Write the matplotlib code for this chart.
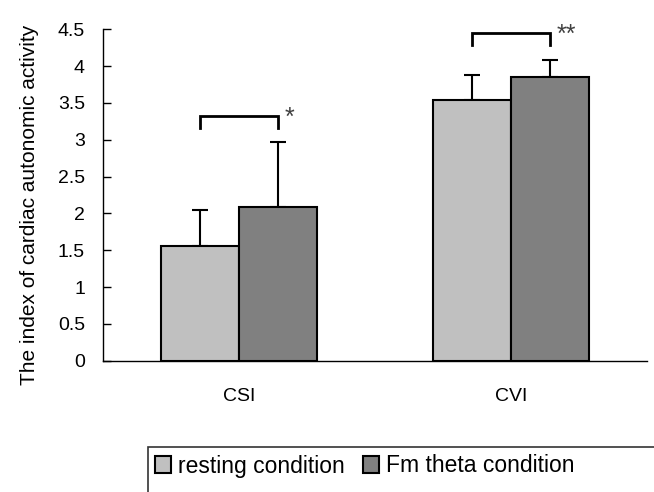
import matplotlib.pyplot as plt
import numpy as np
from matplotlib.patches import Rectangle

plt.rcParams['font.family'] = ['Liberation Sans', 'DejaVu Sans']

# data
categories = ["CSI", "CVI"]
series_names = ["resting condition", "Fm theta condition"]
resting = [1.56, 3.54]
resting_sd = [0.49, 0.34]
fm_theta = [2.09, 3.85]
fm_theta_sd = [0.88, 0.23]
bracket_y = [3.32, 4.45]
bracket_leg = [0.16, 0.17]
stars = ["*", "**"]

fig = plt.figure(figsize=(6.54, 4.92), dpi=100)
ax = fig.add_axes([0.1575, 0.267, 0.8315, 0.6735])

x = np.arange(len(categories))
w = 0.2857

ax.bar(x - w/2, resting, w, color="#c0c0c0", edgecolor="black", linewidth=1.5,
       label=series_names[0], zorder=2)
ax.bar(x + w/2, fm_theta, w, color="#808080", edgecolor="black", linewidth=1.5,
       label=series_names[1], zorder=2)

# sadece pozitif hata çubukları
ax.errorbar(x - w/2, resting, yerr=[np.zeros(2), resting_sd], fmt="none",
            ecolor="black", elinewidth=1.5, capsize=5.5, capthick=1.5, zorder=1)
ax.errorbar(x + w/2, fm_theta, yerr=[np.zeros(2), fm_theta_sd], fmt="none",
            ecolor="black", elinewidth=1.5, capsize=5.5, capthick=1.5, zorder=1)

for i in range(len(categories)):
    x0, x1 = x[i] - w/2, x[i] + w/2
    y = bracket_y[i]
    ax.plot([x0, x0, x1, x1], [y - bracket_leg[i], y, y, y - bracket_leg[i]],
            color="black", lw=2, solid_joinstyle="miter", clip_on=False)
    ax.text(x1 + 0.025, y - 0.02, stars[i], fontsize=18, ha="left", va="center",
            color="#404040")

ax.set_xlim(-0.5, 1.5)
ax.set_ylim(0, 4.5)
ax.set_yticks(np.arange(0, 4.51, 0.5))
ax.set_yticklabels(["0", "0.5", "1", "1.5", "2", "2.5", "3", "3.5", "4", "4.5"])
ax.set_xticks(x)
ax.set_xticklabels(categories)
ax.tick_params(axis="y", direction="in", length=6, width=1, pad=13, labelsize=14)
ax.tick_params(axis="x", length=0, pad=20, labelsize=14)
ax.spines["top"].set_visible(False)
ax.spines["right"].set_visible(False)
ax.spines["left"].set_linewidth(1)
ax.spines["bottom"].set_linewidth(1)
ax.set_ylabel("The index of cardiac autonomic activity", fontsize=15, labelpad=6)
ax.yaxis.set_label_coords(-0.118, 0.47)

# legend kutusu, alt kısmı resmin dışına taşıyor
fig.patches.append(Rectangle((148/654, -0.05), 0.95, 0.05 + 1 - 447/492,
                             transform=fig.transFigure, fill=False,
                             edgecolor="#333333", linewidth=1.2))
fig.legend(loc="center left", bbox_to_anchor=(155/654, 1 - 466/492),
           ncol=2, frameon=False, fontsize=16.5, handlelength=0.7,
           handleheight=0.7, handletextpad=0.3, columnspacing=0.8,
           borderaxespad=0, borderpad=0.0)

fig.savefig("out.png", dpi=100)
